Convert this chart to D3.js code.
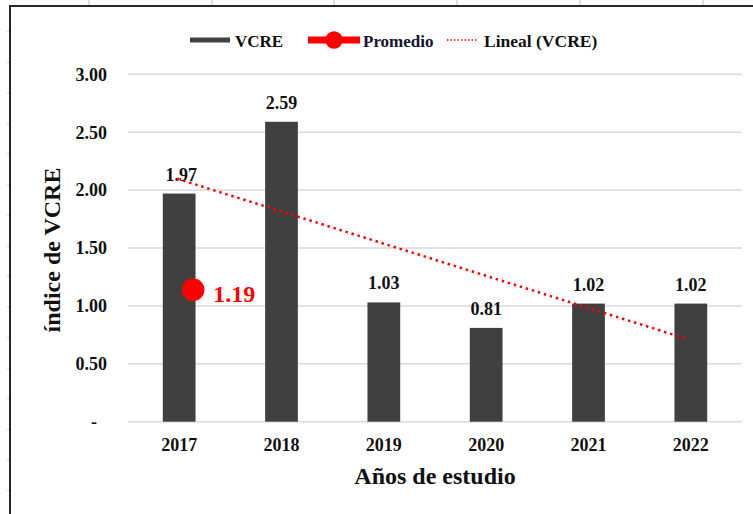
<!DOCTYPE html>
<html><head><meta charset="utf-8">
<script src="https://cdn.jsdelivr.net/npm/d3@7"></script>
<style>
body{margin:0;background:#fff}
</style>
</head><body><svg id="c" width="753" height="514"></svg>
<script>
const categories = ["2017","2018","2019","2020","2021","2022"];
const vcre = [1.97, 2.59, 1.03, 0.81, 1.02, 1.02];
const vcreLabels = ["1.97","2.59","1.03","0.81","1.02","1.02"];
const promedioCategory = "2017";
const promedioValue = 1.14;
const promedioLabel = "1.19";
const yTicks = [0, 0.5, 1, 1.5, 2, 2.5, 3];
const yTickLabels = ["-","0.50","1.00","1.50","2.00","2.50","3.00"];
const legendItems = ["VCRE","Promedio","Lineal (VCRE)"];
const xTitle = "Años de estudio";
const yTitle = "índice de VCRE";

const FONT = "'Liberation Serif','Times New Roman',serif";
const svg = d3.select("#c");
const P = {left:128, right:742, top:74.3, bottom:421.7};
const x = d3.scaleBand().domain(categories).range([P.left, P.right]).paddingInner(0.68).paddingOuter(0.34);
const y = d3.scaleLinear().domain([0, 3]).range([P.bottom, P.top]);
const bw = x.bandwidth();
const cx = c => x(c) + bw / 2;

// frame (spreadsheet border)
const topTicks = [89, 212, 334, 457, 580, 703];
svg.selectAll(".tt").data(topTicks).join("line")
  .attr("x1", d => d).attr("x2", d => d).attr("y1", 0).attr("y2", 6)
  .attr("stroke", "#d6d6d6").attr("stroke-width", 1.5);
const leftTicks = d3.range(0, 16).map(i => 31.6 + i * 30.6);
svg.selectAll(".lt").data(leftTicks).join("line")
  .attr("x1", 7).attr("x2", 10).attr("y1", d => d).attr("y2", d => d)
  .attr("stroke", "#dddddd").attr("stroke-width", 1.5);
svg.append("path").attr("d", "M10,514 V6 H753")
  .attr("fill", "none").attr("stroke", "#262626").attr("stroke-width", 2);

// gridlines
svg.append("g").selectAll("line").data(yTicks).join("line")
  .attr("x1", P.left).attr("x2", P.right)
  .attr("y1", d => y(d)).attr("y2", d => y(d))
  .attr("stroke", "#d9d9d9").attr("stroke-width", 1.5);

// y tick labels
svg.append("g").selectAll("text").data(yTicks).join("text")
  .attr("x", (d, i) => d === 0 ? 97 : 107)
  .attr("y", d => y(d)).attr("dy", "0.35em")
  .attr("text-anchor", "end").attr("font-size", 18).attr("fill", "#111")
  .attr("font-family", FONT).attr("font-weight", "bold")
  .text((d, i) => yTickLabels[i]);

// bars
svg.append("g").selectAll("rect").data(vcre).join("rect")
  .attr("x", (d, i) => x(categories[i])).attr("width", bw)
  .attr("y", d => y(d)).attr("height", d => y(0) - y(d))
  .attr("fill", "#404040");

// bar labels
svg.append("g").selectAll("text").data(vcre).join("text")
  .attr("x", (d, i) => cx(categories[i]) + (i === 0 ? 2 : 0))
  .attr("y", d => y(d) - 13)
  .attr("text-anchor", "middle").attr("font-size", 18).attr("fill", "#111")
  .attr("font-family", FONT).attr("font-weight", "bold")
  .text((d, i) => vcreLabels[i]);

// linear trendline (least squares over the series)
const n = vcre.length;
const xs = d3.range(1, n + 1);
const mx = d3.mean(xs), my = d3.mean(vcre);
const slope = d3.sum(xs.map((v, i) => (v - mx) * (vcre[i] - my))) / d3.sum(xs.map(v => (v - mx) ** 2));
const icpt = my - slope * mx;
const trend = [[categories[0], icpt + slope * 1], [categories[n - 1], icpt + slope * n]];
svg.append("line")
  .attr("x1", cx(trend[0][0]) - 2).attr("y1", y(trend[0][1]))
  .attr("x2", cx(trend[1][0]) - 4).attr("y2", y(trend[1][1]))
  .attr("stroke", "#ff0000").attr("stroke-width", 2.5)
  .attr("stroke-dasharray", "2.5,3.8");

// promedio
const pcx = cx(promedioCategory) + 14;
svg.append("circle").attr("cx", pcx).attr("cy", y(promedioValue)).attr("r", 11.3).attr("fill", "#ff0000");
svg.append("text").attr("x", pcx + 20).attr("y", y(promedioValue) + 12)
  .attr("font-size", 24).attr("fill", "#ff0000")
  .attr("font-family", FONT).attr("font-weight", "bold").text(promedioLabel);

// x labels
svg.append("g").selectAll("text").data(categories).join("text")
  .attr("x", d => cx(d)).attr("y", 445).attr("dy", "0.35em")
  .attr("text-anchor", "middle").attr("font-size", 18).attr("fill", "#111")
  .attr("font-family", FONT).attr("font-weight", "bold")
  .text(d => d);

// axis titles
svg.append("text").attr("x", (P.left + P.right) / 2).attr("y", 484)
  .attr("text-anchor", "middle").attr("font-size", 24).attr("fill", "#111")
  .attr("font-family", FONT).attr("font-weight", "bold").text(xTitle);
svg.append("text").attr("transform", "translate(60,250) rotate(-90)")
  .attr("text-anchor", "middle").attr("font-size", 24).attr("fill", "#111")
  .attr("font-family", FONT).attr("font-weight", "bold").text(yTitle);

// legend
const lg = svg.append("g");
lg.append("rect").attr("x", 190).attr("y", 37.5).attr("width", 40).attr("height", 5).attr("fill", "#404040");
lg.append("text").attr("x", 235).attr("y", 46.5).attr("font-size", 17).attr("fill", "#111")
  .attr("font-family", FONT).attr("font-weight", "bold").text(legendItems[0]);
lg.append("line").attr("x1", 308).attr("x2", 360).attr("y1", 40).attr("y2", 40)
  .attr("stroke", "#ff0000").attr("stroke-width", 7);
lg.append("circle").attr("cx", 334).attr("cy", 40).attr("r", 8.7).attr("fill", "#ff0000");
lg.append("text").attr("x", 363).attr("y", 46.5).attr("font-size", 17).attr("fill", "#141432")
  .attr("font-family", FONT).attr("font-weight", "bold").text(legendItems[1]);
lg.append("line").attr("x1", 447).attr("x2", 478).attr("y1", 40).attr("y2", 40)
  .attr("stroke", "#ff0000").attr("stroke-width", 1.5).attr("stroke-dasharray", "1.5,2");
lg.append("text").attr("x", 484).attr("y", 46.5).attr("font-size", 17.5).attr("fill", "#111")
  .attr("font-family", FONT).attr("font-weight", "bold").text(legendItems[2]);
</script>
</body></html>
